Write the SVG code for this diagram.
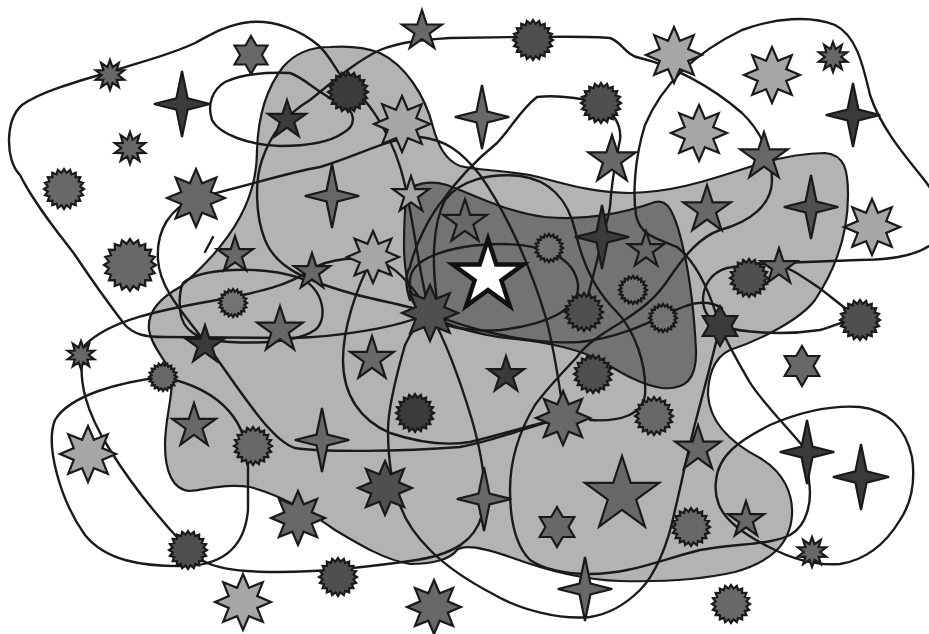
<svg xmlns="http://www.w3.org/2000/svg" xmlns:xlink="http://www.w3.org/1999/xlink" width="929" height="634" viewBox="0 0 929 634">
<style>
.bg{fill:#ffffff}
.blobL{fill:#b3b3b3;stroke:#1a1a1a;stroke-width:2.2}
.blobD{fill:#737373;stroke:#1a1a1a;stroke-width:2.2}
.c{fill:none;stroke:#1a1a1a;stroke-width:2.4;stroke-linecap:round;stroke-linejoin:round}
use{stroke:#1a1a1a;stroke-width:2.2;stroke-linejoin:miter}
.d{fill:#3b3b3b}
.n{fill:#4f4f4f}
.m{fill:#686868}
.h{fill:#737373}
.l{fill:#a6a6a6}
.w{fill:#ffffff;stroke:#111111;stroke-width:4.5}
</style>
<defs>
<path id="p5" vector-effect="non-scaling-stroke" d="M0,-1L.2245,-.309L.9511,-.309L.3633,.118L.5878,.809L0,.382L-.5878,.809L-.3633,.118L-.9511,-.309L-.2245,-.309Z"/>
<path id="p6" vector-effect="non-scaling-stroke" d="M0,-1L.2887,-.5L.866,-.5L.577,0L.866,.5L.2887,.5L0,1L-.2887,.5L-.866,.5L-.577,0L-.866,-.5L-.2887,-.5Z"/>
<path id="p4" vector-effect="non-scaling-stroke" d="M0,-1L.17,-.17L.85,0L.17,.17L0,1L-.17,.17L-.85,0L-.17,-.17Z"/>
<path id="p8" vector-effect="non-scaling-stroke" d="M0,-1L.2105,-.5081L.7071,-.7071L.5081,-.2105L1,0L.5081,.2105L.7071,.7071L.2105,.5081L0,1L-.2105,.5081L-.7071,.7071L-.5081,.2105L-1,0L-.5081,-.2105L-.7071,-.7071L-.2105,-.5081Z"/>
<path id="p10" vector-effect="non-scaling-stroke" d="M0,-1L.17,-.523L.5878,-.809L.445,-.323L.9511,-.309L.55,0L.9511,.309L.445,.323L.5878,.809L.17,.523L0,1L-.17,.523L-.5878,.809L-.445,.323L-.9511,.309L-.55,0L-.9511,-.309L-.445,-.323L-.5878,-.809L-.17,-.523Z"/>
<path id="pb" vector-effect="non-scaling-stroke" d="M1,0L.81,.128L.951,.309L.731,.372L.809,.588L.58,.58L.588,.809L.372,.731L.309,.951L.128,.81L0,1L-.128,.81L-.309,.951L-.372,.731L-.588,.809L-.58,.58L-.809,.588L-.731,.372L-.951,.309L-.81,.128L-1,0L-.81,-.128L-.951,-.309L-.731,-.372L-.809,-.588L-.58,-.58L-.588,-.809L-.372,-.731L-.309,-.951L-.128,-.81L0,-1L.128,-.81L.309,-.951L.372,-.731L.588,-.809L.58,-.58L.809,-.588L.731,-.372L.951,-.309L.81,-.128Z"/>
</defs>
<rect class="bg" x="0" y="0" width="929" height="634"/>
<g id="blobs">
<path id="blob-light" class="blobL" d="M330,47 C345,46 362,46 380,53 C405,65 425,95 433,127 C438,145 445,160 460,166 C475,170 500,170 530,175 C560,182 590,193 630,193 C670,192 700,183 740,170 C775,158 800,153 825,153 C845,155 848,170 848,195 C848,235 835,270 815,300 C800,320 760,340 730,350 C712,358 708,380 708,395 C710,425 735,445 760,458 C785,473 793,495 792,515 C790,545 770,562 735,572 C700,580 660,582 620,581 C580,580 540,568 510,557 C490,550 465,543 457,550 C450,560 430,564 410,564 C385,560 360,545 335,530 C310,512 280,495 250,487 C225,483 205,490 190,491 C172,490 165,470 165,445 C165,420 172,400 172,380 C172,365 152,350 149,330 C147,312 160,298 180,287 C200,270 225,245 240,217 C252,195 257,175 257,150 C258,120 265,90 283,67 C295,53 312,47 330,47 Z"/>
<path id="blob-dark" class="blobD" d="M407,195 C410,183 430,180 447,185 C475,195 505,212 545,217 C585,221 625,213 655,202 C667,199 672,210 678,228 C688,262 694,310 696,350 C697,380 685,390 662,388 C640,385 620,372 600,360 C575,348 545,342 515,339 C485,336 455,328 435,318 C410,305 405,280 404,250 C404,225 405,205 407,195 Z"/>
</g>
<g id="connectors">
<path class="c" d="M430,313 C420,280 415,230 405,185 C395,140 370,100 348,85 C335,70 330,55 318,45 C300,30 275,20 250,22 C225,25 210,35 195,43 C170,55 140,62 110,72 C75,82 40,92 22,105 C5,120 5,160 20,175 C35,205 60,235 75,255 C95,285 115,312 125,325 C135,335 145,337 165,337 L290,338 C340,337 400,327 430,313"/>
<path class="c" d="M183,283 C200,268 260,265 300,278 C325,290 328,320 315,330 C300,340 270,344 230,342 C195,340 182,330 180,310 C179,298 180,290 183,283 Z"/>
<path class="c" d="M290,73 C305,78 320,95 340,103 C355,110 358,125 343,133 C330,142 310,146 280,146 C250,145 220,135 212,120 C207,105 212,90 225,82 C240,75 265,72 290,73 Z"/>
<path class="c" d="M85,345 C110,320 160,310 217,300 C260,292 290,285 310,270 C330,258 360,255 383,263 C400,270 415,290 430,313 C445,340 460,380 472,420 C482,455 488,490 482,515 C475,540 455,555 410,561 C360,568 320,572 280,572 C240,572 205,570 188,549 C165,525 135,490 110,450 C88,415 75,380 85,345 Z"/>
<path class="c" d="M163,377 C120,382 70,395 55,420 C45,445 60,500 85,535 C105,560 140,567 188,566 C225,564 245,545 248,510 L248,465 C248,425 225,390 163,377 Z"/>
<path class="c" d="M196,198 C250,185 290,172 320,167 C360,155 390,137 420,137 C445,140 460,150 480,175 C505,210 530,265 545,315 C555,350 560,390 564,418 C530,425 500,440 460,447 C400,452 320,452 295,448 C270,440 240,390 205,342 C185,315 160,290 158,260 C156,230 170,208 196,198 Z"/>
<path class="c" d="M430,313 C400,303 370,300 340,290 C300,278 275,265 265,240 C255,215 255,180 262,160 C272,130 290,112 310,100 C335,80 355,62 380,50 C400,42 420,40 450,38 L517,37 C560,37 590,36 610,38 C622,42 625,55 640,58 C670,65 710,85 742,113 C760,130 772,155 772,180 C772,205 750,222 720,230 C700,237 685,255 670,277 C655,300 640,310 620,323 C600,335 585,345 577,357 C560,375 545,391 535,405 C520,430 510,460 510,490 C510,520 515,545 530,560 C545,570 565,574 590,574 C630,574 660,560 700,550 C740,543 770,545 790,535 C808,525 812,500 809,481 C808,470 805,458 806,450 C790,430 760,400 749,381 C738,362 728,345 720,326"/>
<path class="c" d="M720,326 C712,300 700,265 677,247 C655,238 640,235 636,215 C633,195 634,160 645,125 C660,90 690,55 742,30 C775,18 810,15 835,25 C855,35 862,60 870,95 C880,125 900,150 922,177 C945,205 950,235 929,246 C915,255 890,260 859,260 L780,263 C760,265 740,265 727,268 C712,272 703,285 703,300 C703,312 710,320 720,326"/>
<path class="c" d="M720,326 C740,332 780,336 820,330 C835,326 845,320 860,318 C845,310 830,295 815,285 C800,275 790,268 779,265"/>
<path class="c" d="M720,326 C712,360 702,397 696,420 C688,450 680,490 675,510 C668,545 655,575 640,590 C625,605 610,614 590,617 C560,620 520,610 493,594 C470,582 445,565 430,550 C415,535 405,520 400,505 C390,480 388,450 388,430 C388,410 395,380 405,345 C412,330 420,320 430,313"/>
<path class="c" d="M373,257 C355,290 343,330 343,360 C343,395 360,420 390,433 C420,443 445,446 470,442 C500,435 530,425 564,418"/>
<path class="c" d="M410,300 C405,285 405,275 410,267 C415,245 430,215 443,200 C455,183 470,165 497,143 C510,130 520,110 537,97 C555,95 580,98 601,103 C612,112 622,125 620,140 C617,155 612,175 610,207 C608,220 605,228 602,237 C598,262 590,285 584,312"/>
<path class="c" d="M410,283 C408,258 450,245 500,244 C545,244 575,258 578,285 C580,310 545,325 500,330 C460,333 425,322 415,305 C410,298 409,290 410,283 Z"/>
<path class="c" d="M437,300 C432,265 432,225 445,200 C460,180 490,173 520,176 C550,180 568,200 575,230 C582,262 595,290 615,310 C635,330 647,365 645,395 C642,415 620,422 590,420"/>
<path class="c" d="M430,313 C470,330 530,345 580,342 C620,338 650,322 683,307 C700,300 712,302 722,308"/>
<path class="c" d="M716,481 C718,455 740,440 770,425 C800,412 830,405 860,407 C885,410 905,425 912,457 C916,485 910,505 900,520 C885,545 865,560 840,564 C815,566 790,558 769,547 C745,535 725,520 719,505 C715,495 715,488 716,481 Z"/>
<path class="c" d="M205,252 L213,237"/>
</g>
<g id="stars">
<use id="s1" href="#p10" class="m" transform="translate(110,75) scale(15)"/>
<use id="s2" href="#p6" class="m" transform="translate(251,55) scale(19)"/>
<use id="s3" href="#p4" class="d" transform="translate(182,104) scale(33)"/>
<use id="s4" href="#p5" class="d" transform="translate(287,120) scale(20)"/>
<use id="s5" href="#p10" class="m" transform="translate(130,148) scale(16)"/>
<use id="s6" href="#pb" class="m" transform="translate(64,189) scale(20)"/>
<use id="s7" href="#p8" class="m" transform="translate(196,198) scale(29)"/>
<use id="s8" href="#pb" class="m" transform="translate(130,265) scale(26)"/>
<use id="s9" href="#p5" class="m" transform="translate(235,255) scale(19)"/>
<use id="s10" href="#pb" class="h" transform="translate(233,303) scale(14)"/>
<use id="s11" href="#p4" class="m" transform="translate(332,196) scale(32)"/>
<use id="s12" href="#p5" class="m" transform="translate(422,31) scale(21)"/>
<use id="s13" href="#pb" class="n" transform="translate(533,40) scale(20)"/>
<use id="s14" href="#pb" class="d" transform="translate(348,92) scale(20)"/>
<use id="s15" href="#p8" class="l" transform="translate(402,124) scale(28)"/>
<use id="s16" href="#p4" class="m" transform="translate(482,117) scale(32)"/>
<use id="s17" href="#pb" class="n" transform="translate(601,103) scale(20)"/>
<use id="s18" href="#p5" class="m" transform="translate(612,160) scale(25)"/>
<use id="s19" href="#p5" class="l" transform="translate(411,195) scale(19)"/>
<use id="s20" href="#p5" class="m" transform="translate(465,222) scale(23)"/>
<use id="s21" href="#p8" class="l" transform="translate(373,257) scale(26)"/>
<use id="s22" href="#p4" class="d" transform="translate(602,237) scale(32)"/>
<use id="s24" href="#pb" class="h" transform="translate(549,248) scale(14)"/>
<use id="s25" href="#pb" class="n" transform="translate(584,312) scale(19)"/>
<use id="s26" href="#p8" class="n" transform="translate(430,313) scale(28)"/>
<use id="s27" href="#p5" class="d" transform="translate(506,375) scale(19)"/>
<use id="s28" href="#pb" class="n" transform="translate(593,374) scale(19)"/>
<use id="s29" href="#p8" class="m" transform="translate(563,418) scale(27)"/>
<use id="s30" href="#pb" class="m" transform="translate(654,416) scale(19)"/>
<use id="s31" href="#pb" class="d" transform="translate(415,413) scale(19)"/>
<use id="s32" href="#p5" class="m" transform="translate(372,359) scale(23)"/>
<use id="s33" href="#p5" class="m" transform="translate(312,272) scale(19)"/>
<use id="s34" href="#p5" class="m" transform="translate(280,330) scale(24)"/>
<use id="s35" href="#p5" class="d" transform="translate(205,345) scale(20)"/>
<use id="s36" href="#pb" class="m" transform="translate(163,377) scale(14)"/>
<use id="s37" href="#p5" class="m" transform="translate(194,426) scale(23)"/>
<use id="s38" href="#pb" class="m" transform="translate(253,446) scale(19)"/>
<use id="s39" href="#p4" class="m" transform="translate(322,440) scale(32)"/>
<use id="s40" href="#p10" class="m" transform="translate(81,355) scale(14)"/>
<use id="s41" href="#p8" class="l" transform="translate(88,454) scale(28)"/>
<use id="s42" href="#pb" class="n" transform="translate(188,550) scale(19)"/>
<use id="s43" href="#p8" class="l" transform="translate(243,602) scale(28)"/>
<use id="s44" href="#p8" class="m" transform="translate(298,518) scale(27)"/>
<use id="s45" href="#p8" class="n" transform="translate(385,488) scale(27)"/>
<use id="s46" href="#pb" class="n" transform="translate(338,577) scale(19)"/>
<use id="s47" href="#p8" class="m" transform="translate(434,607) scale(27)"/>
<use id="s48" href="#p4" class="m" transform="translate(484,499) scale(32)"/>
<use id="s49" href="#p6" class="m" transform="translate(557,527) scale(20)"/>
<use id="s50" href="#p5" class="m" transform="translate(622,495) scale(39)"/>
<use id="s51" href="#p4" class="m" transform="translate(585,589) scale(32)"/>
<use id="s52" href="#pb" class="m" transform="translate(691,527) scale(19)"/>
<use id="s53" href="#p5" class="m" transform="translate(746,520) scale(19)"/>
<use id="s54" href="#p5" class="m" transform="translate(698,449) scale(24)"/>
<use id="s55" href="#p6" class="m" transform="translate(802,366) scale(20)"/>
<use id="s56" href="#p6" class="d" transform="translate(720,326) scale(20)"/>
<use id="s57" href="#p4" class="d" transform="translate(807,452) scale(32)"/>
<use id="s58" href="#p4" class="d" transform="translate(861,477) scale(33)"/>
<use id="s59" href="#p10" class="m" transform="translate(812,552) scale(15)"/>
<use id="s60" href="#pb" class="m" transform="translate(731,604) scale(19)"/>
<use id="s61" href="#pb" class="n" transform="translate(860,320) scale(20)"/>
<use id="s63" href="#p8" class="l" transform="translate(674,55) scale(28)"/>
<use id="s64" href="#p8" class="l" transform="translate(772,75) scale(28)"/>
<use id="s65" href="#p10" class="m" transform="translate(833,57) scale(15)"/>
<use id="s66" href="#p4" class="d" transform="translate(853,115) scale(32)"/>
<use id="s67" href="#p8" class="l" transform="translate(699,133) scale(28)"/>
<use id="s68" href="#p5" class="m" transform="translate(764,157) scale(25)"/>
<use id="s69" href="#p5" class="m" transform="translate(707,210) scale(25)"/>
<use id="s70" href="#p4" class="n" transform="translate(811,207) scale(32)"/>
<use id="s71" href="#p8" class="l" transform="translate(872,227) scale(28)"/>
<use id="s72" href="#p5" class="m" transform="translate(779,267) scale(19)"/>
<use id="s73" href="#pb" class="n" transform="translate(749,278) scale(19)"/>
<use id="s74" href="#p5" class="m" transform="translate(646,250) scale(19)"/>
<use id="s75" href="#pb" class="h" transform="translate(633,290) scale(14)"/>
<use id="s76" href="#pb" class="h" transform="translate(663,318) scale(14)"/>
<use id="s23" href="#p5" class="w" transform="translate(488,276) scale(37)"/>
</g>
</svg>
